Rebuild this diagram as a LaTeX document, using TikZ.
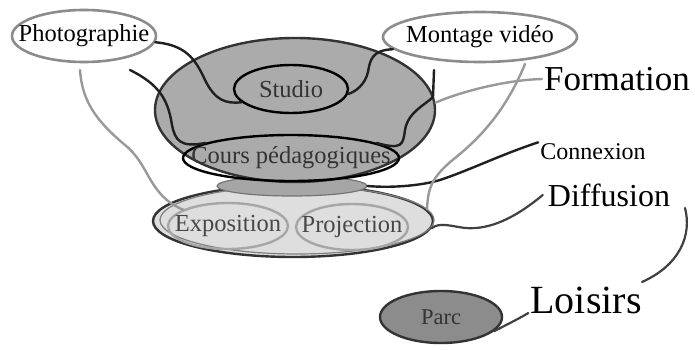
\documentclass[tikz,border=0pt]{standalone}
\usepackage{fontspec}
\setmainfont{Liberation Serif}
\usetikzlibrary{shapes.geometric}
\newcommand{\zw}[1]{\makebox[0pt]{#1}}
\begin{document}
\begin{tikzpicture}[x=1pt,y=-1pt,
  size/.style 2 args={minimum width=#1, minimum height=#2},
  oval/.style={ellipse, inner sep=0pt, font=\fontsize{24.5}{26}\selectfont},
  topic/.style={oval, draw=black!45, line width=2.6pt, fill=white, text=black},
  zone/.style={oval, draw=black!80, line width=2.4pt},
  inner/.style={oval, draw=black, line width=2.4pt, text=black!80},
  light/.style={oval, draw=black!35, line width=2.4pt, text=black!72},
  word/.style={inner sep=2pt, text=black},
  darkline/.style={draw=black!88, line width=2.4pt, line cap=round},
  grayline/.style={draw=black!40, line width=2.4pt, line cap=round},
  midline/.style={draw=black!75, line width=2.2pt, line cap=round}]
\fill[white] (0,0) rectangle (695,350);
\useasboundingbox (0,0) rectangle (695,350);

% lower zone (Diffusion)
\node[zone, fill=black!13, size={280pt}{72pt}] (lower) at (293,221) {};
\node[oval, draw=black!50, line width=1.2pt, size={274pt}{68pt}] (lowerb) at (297,220) {};
\node[oval, fill=black!35, draw=black!55, line width=1.2pt, size={150pt}{20pt}] (joint) at (292,186) {};
% upper zone (Formation)
\node[zone, fill=black!33, size={280pt}{144pt}] (big) at (295,110) {};

\node[inner, size={114pt}{48pt}] (studio) at (291,89) {\zw{Studio}};
\node[inner, size={216pt}{46pt}] (cours) at (291,158) {\zw{Cours pédagogiques}};
\node[light, size={120pt}{46pt}] (expo) at (228,226) {\zw{Exposition}};
\node[light, size={112pt}{46pt}] (proj) at (352,227) {\zw{Projection}};
\node[oval, draw=black!80, fill=black!45, line width=2.4pt, text=black!80,
      font=\fontsize{22.5}{24}\selectfont, size={122pt}{52pt}] (parc) at (441,317) {\zw{Parc}};

\node[topic, size={144pt}{52pt}] (photo) at (84,36) {\zw{Photographie}};
\node[topic, size={194pt}{50pt}] (montage) at (480,37) {\zw{Montage vidéo}};

\node[word, font=\fontsize{35}{38}\selectfont] (formation) at (617,79) {Formation};
\node[word, font=\fontsize{24}{26}\selectfont] (connexion) at (593,152) {Connexion};
\node[word, inner sep=5pt, font=\fontsize{32}{34}\selectfont] (diffusion) at (609,195) {Diffusion};
\node[word, font=\fontsize{40}{42}\selectfont] (loisirs) at (586,300) {Loisirs};

\coordinate (c2) at (130,70);
\coordinate (c4) at (434,70);
\coordinate (g5) at (80,70);
\coordinate (g6) at (525,64);
\coordinate (c10a) at (685,208);
\coordinate (c10b) at (642,282);

% black connectors
\draw[darkline] (photo.-5) .. controls (185,45) and (195,58) .. (205,80)
  .. controls (215,100) and (225,104) .. (studio.195);
\draw[darkline] (c2) .. controls (160,85) and (168,100) .. (172,125)
  .. controls (175,140) and (180,148) .. (cours.170);
\draw[darkline] (montage.188) .. controls (372,50) and (370,60) .. (368,72)
  .. controls (365,85) and (355,92) .. (studio.-5);
\draw[darkline] (c4) -- (433,97) .. controls (425,105) and (408,112) .. (405,130)
  .. controls (403,145) and (402,150) .. (cours.10);
\draw[darkline] (connexion.170) .. controls (500,155) and (470,170) .. (440,180)
  .. controls (420,186) and (390,188) .. (joint.east);
% gray connectors
\draw[grayline] (g5) .. controls (82,100) and (95,120) .. (125,145)
  .. controls (150,165) and (148,195) .. (expo.160);
\draw[grayline] (g6) .. controls (510,100) and (490,130) .. (455,158)
  .. controls (430,178) and (428,190) .. (lower.5);
\draw[grayline] (formation.west) .. controls (505,80) and (460,92) .. (big.3);
% dark gray connectors
\draw[midline] (diffusion.west) .. controls (515,218) and (490,230) .. (465,228)
  .. controls (450,226) and (440,222) .. (lower.-3);
\draw[midline] (c10a) .. controls (692,235) and (680,265) .. (c10b);
\draw[midline] (loisirs.base west) .. controls (520,318) and (512,322) .. (parc.-15);
\end{tikzpicture}
\end{document}
